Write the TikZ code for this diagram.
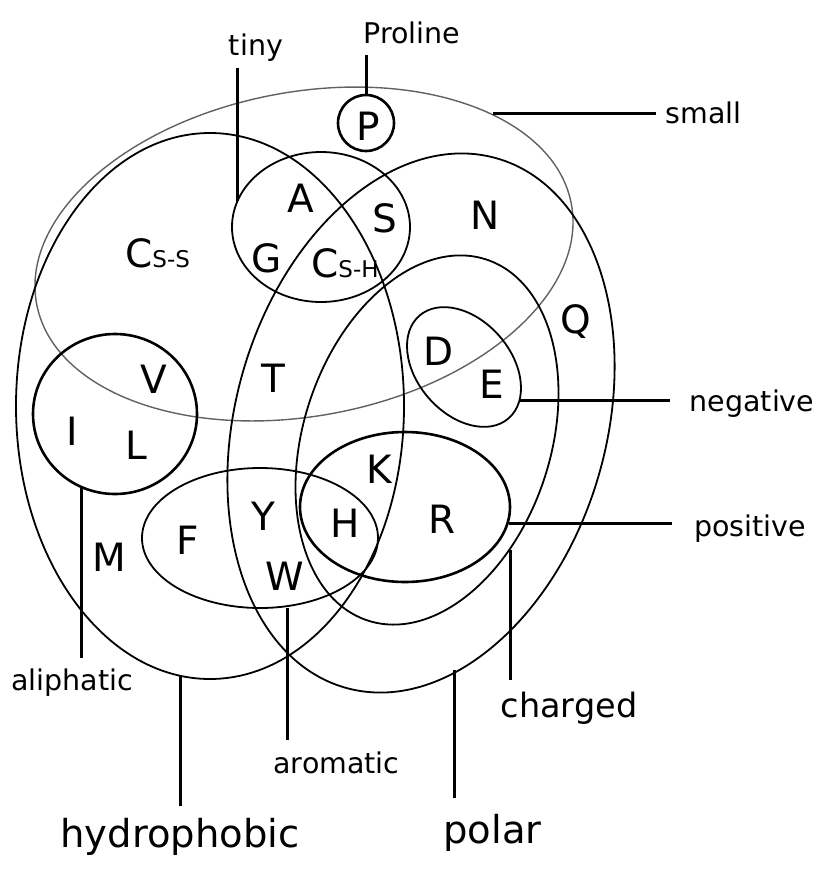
\documentclass[tikz,border=0pt]{standalone}
\usepackage{fontspec}
\setmainfont{DejaVu Sans}
\usetikzlibrary{shapes.geometric}
\begin{document}
\begin{tikzpicture}[x=1pt,y=-1pt,
  setline/.style={draw, ellipse, inner sep=0pt, outer sep=0pt, line width=1.8pt},
  thickset/.style={setline, line width=2.6pt},
  greyset/.style={setline, draw=black!62, line width=1.4pt},
  aa/.style={anchor=base, inner sep=0pt, font=\fontsize{39}{39}\selectfont},
  aasub/.style={anchor=base west, inner sep=0pt, font=\fontsize{39}{39}\selectfont},
  lab/.style={anchor=base, inner sep=0pt, font=\fontsize{28.5}{28.5}\selectfont},
  midlab/.style={anchor=base, inner sep=0pt, font=\fontsize{33.5}{33.5}\selectfont},
  biglab/.style={anchor=base, inner sep=0pt, font=\fontsize{38.5}{38.5}\selectfont},
  conn/.style={line width=3pt}
]
\useasboundingbox (0,0) rectangle (836,871);

% sets
\node[greyset, minimum width=544pt, minimum height=324pt, rotate=10.6] (small) at (304,254) {};
\node[setline, minimum width=388pt, minimum height=546pt] (hydrophobic) at (210,406) {};
\node[setline, minimum width=370.5pt, minimum height=550.6pt, rotate=-16] (polar) at (421,423) {};
\node[setline, minimum width=247pt, minimum height=380pt, rotate=-18.2] (charged) at (427,440) {};
\node[setline, minimum width=178pt, minimum height=150pt] (tiny) at (321,227) {};
\node[thickset, minimum width=56pt, minimum height=56pt] (proline) at (366,123) {};
\node[thickset, minimum width=164pt, minimum height=160pt] (aliphatic) at (115,414) {};
\node[setline, minimum width=236pt, minimum height=140pt] (aromatic) at (260,538) {};
\node[thickset, minimum width=210pt, minimum height=150pt] (positive) at (405,507) {};
\node[setline, minimum width=94pt, minimum height=136pt, rotate=41] (negative) at (464,367) {};

% amino acids
\node[aa] (P) at (368,140) {P};
\node[aa] (A) at (301,212) {A};
\node[aa] (S) at (385,232) {S};
\node[aa] (G) at (267,272) {G};
\node[aasub] (Csh) at (311,277) {C{\fontsize{23}{23}\selectfont S-H}};
\node[aasub] (Css) at (125,267) {C{\fontsize{23}{23}\selectfont S-S}};
\node[aa] (N) at (485.5,229) {N};
\node[aa] (Q) at (576,333) {Q};
\node[aa] (D) at (439,365) {D};
\node[aa] (E) at (492,398) {E};
\node[aa] (V) at (153.5,393) {V};
\node[aa] (I) at (72,445) {I};
\node[aa] (L) at (136,459) {L};
\node[aa] (T) at (273.5,392) {T};
\node[aa] (K) at (379,483) {K};
\node[aa] (M) at (109.5,571) {M};
\node[aa] (F) at (188,554) {F};
\node[aa] (Y) at (263,530) {Y};
\node[aa] (H) at (345.5,537) {H};
\node[aa] (W) at (284.5,590) {W};
\node[aa] (R) at (442,533) {R};

% labels
\node[lab] (ltiny) at (256,55) {tiny};
\node[lab] (lproline) at (412,43) {Proline};
\node[lab] (lsmall) at (703.5,123) {small};
\node[lab] (lnegative) at (752,411) {negative};
\node[lab] (lpositive) at (750,536.5) {positive};
\node[midlab] (lcharged) at (569,717) {charged};
\node[biglab] (lpolar) at (492.5,843) {polar};
\node[biglab] (lhydrophobic) at (180,847) {hydrophobic};
\node[lab] (laromatic) at (336.5,773) {aromatic};
\node[lab] (laliphatic) at (72,690) {aliphatic};

% connector ends
\coordinate (ct1) at (237,201); \coordinate (ct2) at (237,68);
\coordinate (cp1) at (366,95);  \coordinate (cp2) at (366,55);
\coordinate (cs1) at (493,113); \coordinate (cs2) at (656,113);
\coordinate (cn1) at (519,400); \coordinate (cn2) at (670,400);
\coordinate (cq1) at (509,523); \coordinate (cq2) at (672,523);
\coordinate (cc1) at (510,550); \coordinate (cc2) at (510,680);
\coordinate (co1) at (454,670); \coordinate (co2) at (454,798);
\coordinate (ch1) at (180,675); \coordinate (ch2) at (180,806);
\coordinate (cr1) at (287,608); \coordinate (cr2) at (287,740);
\coordinate (ca1) at (81,487);  \coordinate (ca2) at (81,658);

\draw[conn] (ct1) -- (ct2);
\draw[conn] (cp1) -- (cp2);
\draw[conn] (cs1) -- (cs2);
\draw[conn] (cn1) -- (cn2);
\draw[conn] (cq1) -- (cq2);
\draw[conn] (cc1) -- (cc2);
\draw[conn] (co1) -- (co2);
\draw[conn] (ch1) -- (ch2);
\draw[conn] (cr1) -- (cr2);
\draw[conn] (ca1) -- (ca2);
\end{tikzpicture}
\end{document}
